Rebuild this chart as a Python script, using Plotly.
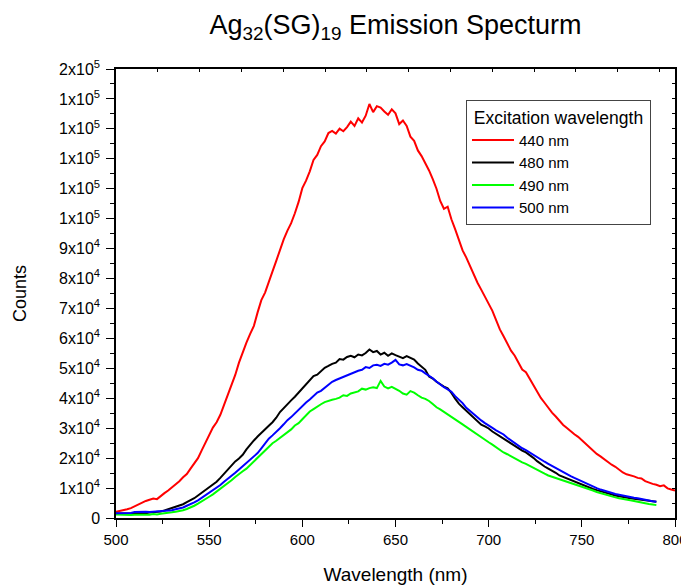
import plotly.graph_objects as go

wl_red = list(range(500, 801, 2))
wl = list(range(500, 791, 2))

red_440 = [2100, 2300, 2600, 2900, 3300, 3900, 4600, 5200, 5700, 6100,
           6500, 6300, 7400, 8300, 9200, 10200, 11200, 12300, 13600, 14700,
           16500, 18200, 20000, 22600, 25300, 28000, 30200, 32000, 34500, 37800,
           41000, 44500, 47800, 51900, 55500, 58600, 61500, 64200, 68700, 72800,
           75300, 79200, 82400, 85900, 89600, 93100, 96000, 98500, 101800, 105600,
           110200, 112700, 115800, 119600, 121300, 124200, 125800, 128600, 129300, 128400,
           130100, 129200, 130600, 132400, 131000, 133500, 132100, 134400, 138300, 135600,
           137600, 137100, 135800, 134700, 136500, 135200, 131600, 132800, 131000, 127400,
           126000, 122800, 120900, 118700, 116100, 113200, 110000, 105900, 103300, 104000,
           99800, 96500, 93100, 89400, 87000, 84100, 81500, 78600, 76300, 73800,
           71600, 69200, 66100, 63000, 60700, 58300, 55900, 54200, 51700, 49600,
           48700, 46500, 44100, 41800, 40100, 38500, 36800, 35200, 33900, 32300,
           31100, 30100, 28900, 28000, 27100, 25900, 25000, 23600, 22500, 21400,
           20600, 19700, 18500, 17800, 17100, 16100, 15200, 14600, 14300, 13900,
           13400, 13200, 12300, 11800, 11400, 11100, 10600, 10900, 9900, 9500,
           9200]

black_480 = [1500, 1500, 1400, 1500, 1600, 1500, 1600, 1700, 1600, 1800,
             1900, 2000, 2200, 2500, 2900, 3300, 3700, 4100, 4600, 5300,
             5900, 6600, 7500, 8400, 9200, 10100, 11100, 12100, 13400, 14800,
             16100, 17500, 18900, 19900, 21100, 22900, 24500, 25900, 27200, 28300,
             29400, 30800, 32000, 33500, 35400, 36800, 38200, 39300, 40500, 41900,
             43000, 44600, 46000, 47400, 47900, 49000, 50200, 50800, 51500, 51900,
             53100, 52900, 53800, 54200, 53700, 54600, 54300, 55100, 56300, 55400,
             55800, 54600, 55200, 54200, 55000, 54400, 53800, 53400, 54100, 53400,
             52900, 51600, 50500, 49500, 47300, 46600, 45500, 44600, 43900, 43300,
             41800, 39900, 38200, 37000, 35800, 34700, 33300, 32400, 31200, 30600,
             29900, 28900, 28100, 27400, 26600, 25800, 25000, 24100, 23200, 22500,
             21900, 21100, 20100, 19000, 18000, 17200, 16500, 15900, 15100, 14200,
             13700, 13200, 12600, 12100, 11500, 11000, 10600, 10100, 9700, 9300,
             8900, 8600, 8200, 7900, 7500, 7300, 7000, 6800, 6600, 6400,
             6200, 6000, 5800, 5600, 5500, 5400]

green_490 = [1200, 1100, 1200, 1100, 1000, 1100, 1100, 1000, 1200, 1100,
             1300, 1200, 1400, 1500, 1700, 1900, 2100, 2300, 2600, 3000,
             3500, 4100, 4800, 5500, 6300, 7100, 7900, 8800, 9800, 10800,
             11700, 12600, 13700, 14800, 15600, 16500, 17700, 19000, 20300, 21600,
             22800, 24000, 25000, 25800, 26700, 27500, 28400, 29600, 30900, 31700,
             33000, 34200, 35600, 36400, 37300, 38000, 38700, 39200, 39500, 39800,
             40200, 41000, 40800, 41600, 42000, 42300, 43200, 42900, 43400, 43700,
             43400, 45800, 43900, 43300, 43800, 43200, 42500, 41600, 41200, 42400,
             41900, 41000, 40200, 39800, 39100, 38100, 37000, 36300, 35400, 34500,
             33700, 33000, 32100, 31300, 30400, 29700, 28900, 28000, 27100, 26200,
             25300, 24500, 23600, 22600, 21900, 21300, 20600, 19900, 19300, 18600,
             18100, 17400, 16700, 16000, 15400, 14800, 14200, 13800, 13300, 12900,
             12500, 12100, 11700, 11300, 10900, 10500, 10000, 9600, 9200, 8700,
             8300, 7900, 7500, 7200, 6900, 6600, 6300, 6100, 5900, 5700,
             5400, 5100, 4900, 4700, 4500, 4300]

blue_500 = [1600, 1600, 1500, 1600, 1700, 2000, 2100, 2000, 2100, 2000,
            2100, 2000, 2100, 2200, 2400, 2600, 2900, 3100, 3500, 4100,
            4600, 5200, 5900, 6700, 7500, 8300, 9100, 10000, 11000, 12100,
            13000, 14000, 15100, 16200, 17300, 18100, 19300, 20600, 21700, 23300,
            25100, 26500, 27600, 28700, 30000, 31300, 32700, 33700, 35000, 36200,
            37400, 38600, 39600, 40700, 41900, 42500, 43500, 44300, 45500, 46100,
            46600, 47200, 47700, 48300, 48600, 49200, 49500, 50400, 50100, 51000,
            51200, 50800, 51500, 51200, 51900, 52800, 51300, 51000, 51400, 50900,
            50300, 49500, 49200, 48300, 47500, 46700, 45600, 44600, 43700, 43000,
            42200, 40700, 39500, 38400, 36800, 35700, 34500, 33400, 32600, 31700,
            31000, 30100, 29300, 28500, 27900, 26800, 25900, 25000, 24200, 23300,
            22700, 21900, 21000, 20200, 19500, 18800, 18100, 17400, 16600, 15900,
            15300, 14700, 14000, 13400, 12800, 12200, 11700, 11200, 10600, 10000,
            9500, 9100, 8700, 8300, 8000, 7800, 7500, 7300, 7000, 6800,
            6600, 6300, 6100, 5800, 5600, 5400]

series_names = ["440 nm", "480 nm", "490 nm", "500 nm"]
series_colors = ["#FF0000", "#000000", "#00FF00", "#0000FF"]

y_tickvals = list(range(0, 150001, 10000))
y_ticktext = ["0", "1x10<sup>4</sup>", "2x10<sup>4</sup>", "3x10<sup>4</sup>", "4x10<sup>4</sup>",
              "5x10<sup>4</sup>", "6x10<sup>4</sup>", "7x10<sup>4</sup>", "8x10<sup>4</sup>",
              "9x10<sup>4</sup>", "1x10<sup>5</sup>", "1x10<sup>5</sup>", "1x10<sup>5</sup>",
              "1x10<sup>5</sup>", "1x10<sup>5</sup>", "2x10<sup>5</sup>"]

FONT = "Liberation Sans, Arial, sans-serif"

# page has an 8px body margin: figure is drawn 8px right/down of the page origin
W, H = 681, 577
PL, PR, PT, PB = 108, 667, 61, 510   # plot area in figure pixels

fig = go.Figure()
xs = [wl_red, wl, wl, wl]
ys = [red_440, black_480, green_490, blue_500]
for name, color, x, y in zip(series_names, series_colors, xs, ys):
    fig.add_trace(go.Scatter(x=x, y=y, mode="lines", name=name,
                             line=dict(color=color, width=2)))

# helper axes for inward ticks on top/right
fig.add_trace(go.Scatter(x=wl, y=blue_500, xaxis="x2", yaxis="y2", mode="lines",
                         line=dict(color="rgba(0,0,0,0)"), showlegend=False,
                         hoverinfo="skip"))

fig.update_layout(
    width=W, height=H,
    margin=dict(l=PL, r=W - PR, t=PT, b=H - PB, autoexpand=False),
    paper_bgcolor="white", plot_bgcolor="white",
    font=dict(family=FONT, color="black"),
    title=dict(text="Ag<sub>32</sub>(SG)<sub>19</sub> Emission Specturm",
               x=0.5, xref="paper", xanchor="center",
               y=1 - 17 / H, yanchor="middle", font=dict(size=27)),
    showlegend=True,
    legend=dict(x=(458 - PL) / (PR - PL), y=(PB - 92) / (PB - PT), xanchor="left", yanchor="top",
                bgcolor="white", bordercolor="#444", borderwidth=1,
                font=dict(size=15), itemwidth=42,
                title=dict(text="&nbsp;Excitation wavelength&nbsp;", side="top center",
                           font=dict(size=17.5)),
                tracegroupgap=0),
    xaxis=dict(range=[500, 800], dtick=50, tick0=500, automargin=False,
               showline=True, linecolor="black", linewidth=1.5, mirror=True,
               ticks="outside", ticklen=7, tickwidth=1.2, tickcolor="black",
               minor=dict(dtick=25, tick0=500, ticks="outside", ticklen=4, tickcolor="black", showgrid=False),
               showgrid=False, zeroline=False,
               tickfont=dict(size=15),
               title=dict(text="Wavelength (nm)", font=dict(size=19), standoff=21)),
    yaxis=dict(range=[0, 150000], tickmode="array", tickvals=y_tickvals, ticktext=y_ticktext,
               automargin=False,
               showline=True, linecolor="black", linewidth=1.5, mirror=True,
               ticks="outside", ticklen=8, tickwidth=1.2, tickcolor="black",
               ticklabelstandoff=3,
               minor=dict(dtick=5000, tick0=0, ticks="outside", ticklen=4, tickcolor="black", showgrid=False),
               showgrid=False, zeroline=False,
               tickfont=dict(size=16),
               title=dict(text="Counts", font=dict(size=18), standoff=28)),
    xaxis2=dict(overlaying="x", side="top", anchor="y", range=[0, 559 / 41.8], dtick=1, tick0=0,
                ticks="inside", ticklen=3, tickcolor="black", showticklabels=False, automargin=False,
                showgrid=False, zeroline=False, showline=False, fixedrange=True),
    yaxis2=dict(overlaying="y", side="right", anchor="x", range=[0, 150000], dtick=5000, tick0=0,
                ticks="inside", ticklen=3, tickcolor="black", showticklabels=False, automargin=False,
                showgrid=False, zeroline=False, showline=False, fixedrange=True),
)

fig.write_html("out.html")
